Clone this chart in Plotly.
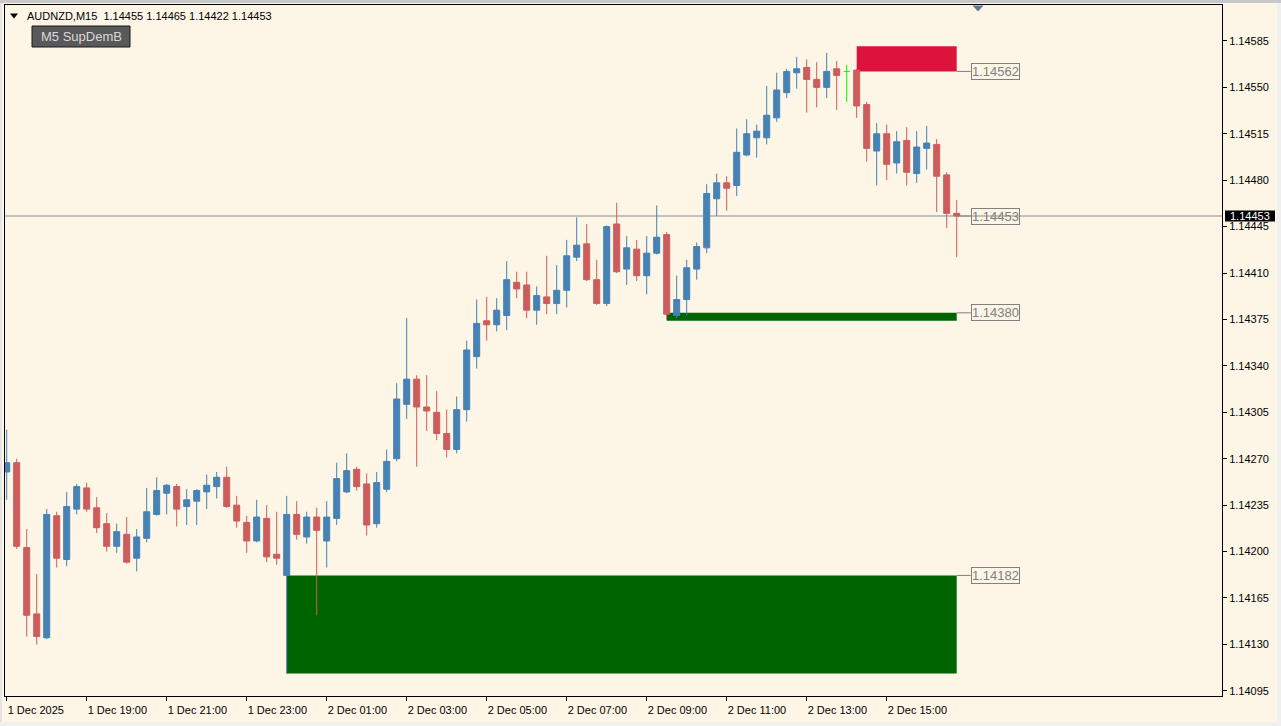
import plotly.graph_objects as go

# ---------------- data ----------------
symbol_header = "AUDNZD,M15\u00a0\u00a01.14455 1.14465 1.14422 1.14453"
indicator_name = "M5 SupDemB"

tick_bars = [0, 8, 16, 24, 32, 40, 48, 56, 64, 72, 80, 88]
tick_labels = ["1 Dec 2025", "1 Dec 19:00", "1 Dec 21:00", "1 Dec 23:00",
               "2 Dec 01:00", "2 Dec 03:00", "2 Dec 05:00", "2 Dec 07:00",
               "2 Dec 09:00", "2 Dec 11:00", "2 Dec 13:00", "2 Dec 15:00"]

y_ticks = [1.14095, 1.14130, 1.14165, 1.14200, 1.14235, 1.14270, 1.14305,
           1.14340, 1.14375, 1.14410, 1.14445, 1.14480, 1.14515, 1.14550, 1.14585]

opens = [1.14260, 1.14267, 1.14203, 1.14153, 1.14135, 1.14227, 1.14194, 1.14232, 1.14248, 1.14233,
         1.14221, 1.14204, 1.14213, 1.14195, 1.14210, 1.14228, 1.14244, 1.14249, 1.14234, 1.14238,
         1.14245, 1.14249, 1.14256, 1.14235, 1.14222, 1.14208, 1.14225, 1.14198, 1.14182, 1.14228,
         1.14211, 1.14226, 1.14208, 1.14225, 1.14245, 1.14262, 1.14251, 1.14221, 1.14247, 1.14270,
         1.14311, 1.14330, 1.14309, 1.14305, 1.14289, 1.14277, 1.14307, 1.14347, 1.14374, 1.14371,
         1.14378, 1.14403, 1.14401, 1.14382, 1.14392, 1.14387, 1.14397, 1.14422, 1.14432, 1.14405,
         1.14387, 1.14447, 1.14413, 1.14428, 1.14408, 1.14425, 1.14439, 1.14378, 1.14390, 1.14413,
         1.14429, 1.14466, 1.14478, 1.14476, 1.14499, 1.14512, 1.14512, 1.14527, 1.14546, 1.14561,
         1.14565, 1.14556, 1.14550, 1.14564, 1.14562, 1.14563, 1.14537, 1.14502, 1.14515, 1.14493,
         1.14510, 1.14485, 1.14504, 1.14507, 1.14484, 1.14455]
highs = [1.14292, 1.14270, 1.14217, 1.14183, 1.14232, 1.14230, 1.14245, 1.14251, 1.14252, 1.14241,
         1.14229, 1.14221, 1.14226, 1.14217, 1.14248, 1.14256, 1.14251, 1.14251, 1.14247, 1.14247,
         1.14258, 1.14260, 1.14264, 1.14242, 1.14227, 1.14239, 1.14235, 1.14230, 1.14242, 1.14238,
         1.14230, 1.14233, 1.14238, 1.14267, 1.14274, 1.14264, 1.14259, 1.14260, 1.14277, 1.14327,
         1.14376, 1.14333, 1.14333, 1.14321, 1.14307, 1.14317, 1.14359, 1.14390, 1.14392, 1.14391,
         1.14419, 1.14411, 1.14411, 1.14400, 1.14423, 1.14416, 1.14435, 1.14452, 1.14447, 1.14420,
         1.14446, 1.14463, 1.14438, 1.14435, 1.14438, 1.14461, 1.14441, 1.14408, 1.14420, 1.14433,
         1.14477, 1.14485, 1.14483, 1.14519, 1.14526, 1.14522, 1.14551, 1.14561, 1.14564, 1.14573,
         1.14571, 1.14569, 1.14576, 1.14570, 1.14567, 1.14564, 1.14539, 1.14523, 1.14522, 1.14517,
         1.14520, 1.14517, 1.14521, 1.14511, 1.14486, 1.14465]
lows = [1.14239, 1.14202, 1.14136, 1.14130, 1.14134, 1.14188, 1.14189, 1.14228, 1.14230, 1.14214,
        1.14200, 1.14199, 1.14191, 1.14185, 1.14207, 1.14227, 1.14228, 1.14219, 1.14220, 1.14220,
        1.14232, 1.14240, 1.14233, 1.14218, 1.14199, 1.14207, 1.14192, 1.14190, 1.14108, 1.14209,
        1.14206, 1.14152, 1.14188, 1.14220, 1.14244, 1.14246, 1.14212, 1.14218, 1.14245, 1.14268,
        1.14300, 1.14264, 1.14291, 1.14284, 1.14271, 1.14274, 1.14298, 1.14338, 1.14359, 1.14366,
        1.14367, 1.14391, 1.14376, 1.14371, 1.14379, 1.14379, 1.14384, 1.14419, 1.14404, 1.14386,
        1.14385, 1.14410, 1.14401, 1.14404, 1.14394, 1.14424, 1.14375, 1.14376, 1.14378, 1.14405,
        1.14425, 1.14453, 1.14457, 1.14468, 1.14498, 1.14497, 1.14507, 1.14524, 1.14542, 1.14549,
        1.14531, 1.14535, 1.14542, 1.14533, 1.14539, 1.14527, 1.14494, 1.14476, 1.14480, 1.14485,
        1.14476, 1.14478, 1.14488, 1.14456, 1.14444, 1.14422]
closes = [1.14267, 1.14204, 1.14152, 1.14136, 1.14228, 1.14195, 1.14234, 1.14249, 1.14232, 1.14218,
          1.14204, 1.14215, 1.14192, 1.14211, 1.14230, 1.14246, 1.14250, 1.14232, 1.14239, 1.14246,
          1.14250, 1.14256, 1.14234, 1.14223, 1.14208, 1.14226, 1.14196, 1.14195, 1.14228, 1.14213,
          1.14226, 1.14216, 1.14226, 1.14255, 1.14261, 1.14249, 1.14220, 1.14252, 1.14268, 1.14315,
          1.14330, 1.14309, 1.14306, 1.14289, 1.14277, 1.14307, 1.14352, 1.14372, 1.14371, 1.14382,
          1.14405, 1.14398, 1.14382, 1.14393, 1.14387, 1.14397, 1.14423, 1.14431, 1.14405, 1.14387,
          1.14445, 1.14411, 1.14429, 1.14408, 1.14425, 1.14437, 1.14379, 1.14390, 1.14414, 1.14430,
          1.14470, 1.14478, 1.14474, 1.14501, 1.14515, 1.14517, 1.14529, 1.14548, 1.14562, 1.14564,
          1.14556, 1.14550, 1.14562, 1.14559, 1.14562, 1.14536, 1.14504, 1.14515, 1.14492, 1.14509,
          1.14486, 1.14505, 1.14508, 1.14483, 1.14455, 1.14453]

doji_bar = 84          # the lime-highlighted bar
last_bar = 95
last_price = 1.14453

demand_zone = (1.14108, 1.14182)
demand_start = 28
support_zone = (1.14374, 1.14380)
support_start = 66
supply_zone = (1.14562, 1.14581)
supply_start = 85

level_labels = [1.14562, 1.14453, 1.14380, 1.14182]

# ---------------- style ----------------
BG = "#FDF5E6"
BULL = "#4682B4"
BEAR = "#CD5C5C"
FONT = "Liberation Sans, Arial, sans-serif"

W, H = 1281, 726
ML, MR, MT, MB = 5, 59, 5, 30
PW = W - ML - MR
PH = H - MT - MB
Y0, Y1 = 1.140911, 1.146121


def px_x(x):
    return (x - ML) / PW


def px_y(y):
    return (H - MB - y) / PH


bars = list(range(len(opens)))
main_idx = [i for i in bars if i != doji_bar]

fig = go.Figure()

fig.add_trace(go.Candlestick(
    x=[bars[i] for i in main_idx],
    open=[opens[i] for i in main_idx],
    high=[highs[i] for i in main_idx],
    low=[lows[i] for i in main_idx],
    close=[closes[i] for i in main_idx],
    increasing=dict(line=dict(color=BULL, width=1), fillcolor=BULL),
    decreasing=dict(line=dict(color=BEAR, width=1), fillcolor=BEAR),
    whiskerwidth=0,
    hoverinfo="skip",
    showlegend=False,
))

# lime doji bar
d = doji_bar
fig.add_trace(go.Scatter(
    x=[d, d, None, d - 0.3, d + 0.3],
    y=[lows[d], highs[d], None, opens[d], closes[d]],
    mode="lines", line=dict(color="#00FF00", width=1),
    hoverinfo="skip", showlegend=False,
))

shapes = []
# zones
shapes.append(dict(type="rect", xref="x", yref="y", x0=demand_start, x1=last_bar,
                   y0=demand_zone[0], y1=demand_zone[1], fillcolor="#006400",
                   line=dict(width=0), layer="below"))
shapes.append(dict(type="rect", xref="x", yref="y", x0=support_start, x1=last_bar,
                   y0=support_zone[0], y1=support_zone[1], fillcolor="#006400",
                   line=dict(width=0), layer="below"))
shapes.append(dict(type="rect", xref="x", yref="y", x0=supply_start, x1=last_bar,
                   y0=supply_zone[0], y1=supply_zone[1], fillcolor="#DC143C",
                   line=dict(width=0), layer="below"))
# current price line
shapes.append(dict(type="line", xref="paper", yref="y", x0=0, x1=1,
                   y0=last_price, y1=last_price, line=dict(color="#8C8C8C", width=1),
                   layer="below"))
# connectors to level labels
label_x = last_bar + 1.4
for lv in level_labels:
    shapes.append(dict(type="line", xref="x", yref="y", x0=last_bar, x1=label_x,
                       y0=lv, y1=lv, line=dict(color="#808080", width=1)))

# current price tag on the axis
tag_half = 5.5 * (Y1 - Y0) / PH
shapes.append(dict(type="rect", xref="paper", yref="y", x0=px_x(1225), x1=px_x(1275),
                   y0=last_price - tag_half, y1=last_price + tag_half,
                   fillcolor="black", line=dict(width=0), layer="above"))

# indicator button
shapes.append(dict(type="rect", xref="paper", yref="paper", x0=px_x(32), x1=px_x(130),
                   y0=px_y(47), y1=px_y(26), fillcolor="#595959",
                   line=dict(color="#1a1a1a", width=1), layer="above"))
# header triangle
shapes.append(dict(type="path", xref="paper", yref="paper",
                   path=f"M {px_x(10)},{px_y(13.5)} L {px_x(18)},{px_y(13.5)} L {px_x(14)},{px_y(18.5)} Z",
                   fillcolor="black", line=dict(width=0), layer="above"))
# shift marker at top
shapes.append(dict(type="path", xref="paper", yref="paper",
                   path=f"M {px_x(972.5)},{px_y(5.5)} L {px_x(983.5)},{px_y(5.5)} L {px_x(978)},{px_y(11.5)} Z",
                   fillcolor="#5F7A90", line=dict(width=0), layer="above"))
# window frame strips
shapes.append(dict(type="rect", xref="paper", yref="paper", x0=px_x(0), x1=px_x(W),
                   y0=px_y(3), y1=px_y(0), fillcolor="#C8C8C8", line=dict(width=0)))
shapes.append(dict(type="rect", xref="paper", yref="paper", x0=px_x(1277), x1=px_x(W),
                   y0=px_y(H), y1=px_y(3), fillcolor="#F0F0F0", line=dict(width=0)))
shapes.append(dict(type="rect", xref="paper", yref="paper", x0=px_x(0), x1=px_x(2),
                   y0=px_y(H), y1=px_y(3), fillcolor="#E4E4E4", line=dict(width=0)))
shapes.append(dict(type="rect", xref="paper", yref="paper", x0=px_x(0), x1=px_x(W),
                   y0=px_y(H), y1=px_y(722), fillcolor="#F0F0F0", line=dict(width=0)))

annotations = []
for lv in level_labels:
    annotations.append(dict(xref="x", yref="y", x=label_x, y=lv, xanchor="left",
                            yanchor="middle", text=f"{lv:.5f}", showarrow=False,
                            font=dict(family=FONT, size=13, color="#808080"),
                            bordercolor="#808080", borderwidth=1, borderpad=0))
annotations.append(dict(xref="paper", yref="y", x=px_x(1250), y=last_price,
                        xanchor="center", yanchor="middle", text=f"{last_price:.5f}",
                        showarrow=False, font=dict(family=FONT, size=11, color="white")))
annotations.append(dict(xref="paper", yref="paper", x=px_x(25), y=px_y(16),
                        xanchor="left", yanchor="middle", text=symbol_header,
                        showarrow=False, font=dict(family=FONT, size=11, color="black")))
annotations.append(dict(xref="paper", yref="paper", x=px_x(81), y=px_y(36.5),
                        xanchor="center", yanchor="middle", text=indicator_name,
                        showarrow=False, font=dict(family=FONT, size=13, color="#DADADA")))

fig.update_layout(
    template="none",
    width=W, height=H, autosize=False,
    margin=dict(l=ML, r=MR, t=MT, b=MB, pad=0),
    paper_bgcolor=BG, plot_bgcolor=BG,
    boxgap=0.4, boxgroupgap=0,
    showlegend=False,
    hovermode=False,
    shapes=shapes,
    annotations=annotations,
    font=dict(family=FONT, size=11, color="black"),
)
fig.update_xaxes(
    range=[-0.17, 121.53], tickmode="array", tickvals=tick_bars, ticktext=tick_labels,
    ticks="outside", ticklen=4, tickwidth=1, tickcolor="black",
    ticklabelposition="outside right", ticklabelstandoff=4,
    showgrid=False, zeroline=False, showline=True, mirror=True,
    linecolor="black", linewidth=1,
    tickfont=dict(family=FONT, size=11, color="black"),
    rangeslider=dict(visible=False), fixedrange=True,
)
fig.update_yaxes(
    side="right", range=[Y0, Y1], tickmode="array", tickvals=y_ticks,
    ticktext=[f"{v:.5f}" for v in y_ticks],
    ticks="outside", ticklen=4, tickwidth=1, tickcolor="black",
    showgrid=False, zeroline=False, showline=True, mirror=True,
    linecolor="black", linewidth=1,
    tickfont=dict(family=FONT, size=11, color="black"), fixedrange=True,
)

page_fix = ("document.body.style.margin='0';document.body.style.padding='0';"
            "document.body.style.overflow='hidden';"
            "document.body.style.background='" + BG + "';")

fig.write_html("out.html", config={"displayModeBar": False}, post_script=page_fix)
